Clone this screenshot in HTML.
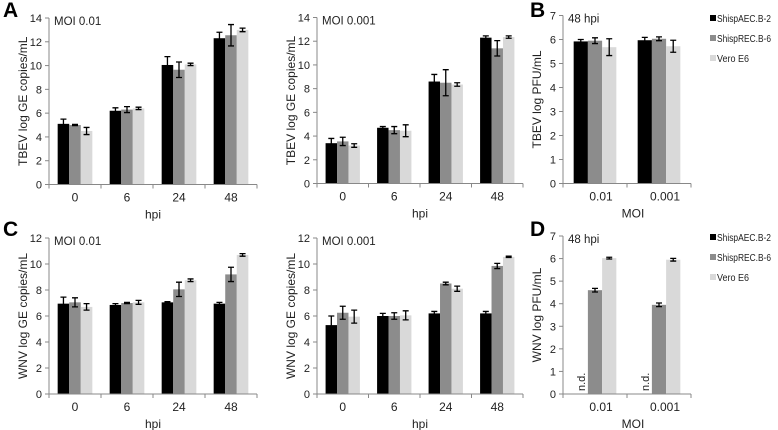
<!DOCTYPE html>
<html><head><meta charset="utf-8">
<style>
html,body{margin:0;padding:0;background:#fff;}
svg{display:block;font-family:"Liberation Sans",Arial,sans-serif;}
</style></head>
<body>
<svg id="fig" width="778" height="430" viewBox="0 0 778 430" xmlns="http://www.w3.org/2000/svg"></svg>
<script>
const seriesNames = ["ShispAEC.B-2", "ShispREC.B-6", "Vero E6"];
const colors = ["#000000", "#8c8c8c", "#d9d9d9"];
const hpiCats = ["0", "6", "24", "48"];
const moiCats = ["0.01", "0.001"];
// Panel A (TBEV GE, MOI 0.01)
const a1Vals = [[5.1, 6.2, 10.05, 12.3], [5.0, 6.3, 9.65, 12.55], [4.5, 6.4, 10.1, 13.0]];
const a1Errs = [[0.4, 0.25, 0.7, 0.5], [0.05, 0.25, 0.65, 0.9], [0.3, 0.1, 0.1, 0.15]];
// Panel A (TBEV GE, MOI 0.001)
const a2Vals = [[3.4, 4.7, 8.6, 12.3], [3.55, 4.5, 8.5, 11.4], [3.2, 4.45, 8.35, 12.35]];
const a2Errs = [[0.4, 0.1, 0.6, 0.15], [0.35, 0.3, 1.1, 0.65], [0.15, 0.5, 0.15, 0.1]];
// Panel B (TBEV PFU)
const bVals = [[5.92, 5.97], [5.95, 6.03], [5.68, 5.72]];
const bErrs = [[0.08, 0.12], [0.12, 0.08], [0.35, 0.25]];
// Panel C (WNV GE, MOI 0.01)
const c1Vals = [[6.95, 6.85, 7.05, 6.95], [7.05, 7.0, 8.05, 9.2], [6.7, 7.05, 8.75, 10.7]];
const c1Errs = [[0.5, 0.1, 0.05, 0.1], [0.35, 0.05, 0.55, 0.55], [0.25, 0.15, 0.1, 0.1]];
// Panel C (WNV GE, MOI 0.001)
const c2Vals = [[5.3, 6.0, 6.2, 6.2], [6.25, 6.0, 8.5, 9.85], [5.95, 6.05, 8.1, 10.55]];
const c2Errs = [[0.7, 0.2, 0.15, 0.15], [0.5, 0.25, 0.1, 0.2], [0.5, 0.35, 0.2, 0.05]];
// Panel D (WNV PFU), null = n.d.
const dVals = [[null, null], [4.6, 3.95], [6.02, 5.95]];
const dErrs = [[0, 0], [0.08, 0.08], [0.04, 0.06]];
const ticks14 = [0, 2, 4, 6, 8, 10, 12, 14];
const ticks12 = [0, 2, 4, 6, 8, 10, 12];
const ticks7 = [0, 1, 2, 3, 4, 5, 6, 7];

const NS = "http://www.w3.org/2000/svg";
const svg = document.getElementById("fig");
function mk(tag, attrs, parent, text) {
  const e = document.createElementNS(NS, tag);
  for (const k in attrs) e.setAttribute(k, attrs[k]);
  if (text !== undefined) e.textContent = text;
  (parent || svg).appendChild(e);
  return e;
}

function panel(p) {
  const g = mk("g", {});
  
  
  const ymax = p.ticks[p.ticks.length - 1];
  const yS = v => p.y0 - (v / ymax) * (p.y0 - p.y1);
  const band = (p.x1 - p.x0) / p.cats.length;
  const bw = band / 4.5;
  const xC = i => p.x0 + band * (i + 0.5);
  p.ticks.forEach(t => {
    const y = yS(t);
    const tl = mk("line", {x1: p.x0 - 4, x2: p.x0, y1: y, y2: y, stroke: "#888", "stroke-width": 1}, g);
    
    
    const tx = mk("text", {x: p.x0 - 7, y: y + 4, "font-size": 11, "text-anchor": "end", fill: "#222"}, g, String(t));
    
    
  });
  p.vals.forEach((ser, s) => {
    ser.forEach((v, i) => {
      const bx = xC(i) - 1.5 * bw + s * bw;
      if (v === null) {
        const nd = mk("text", {x: 0, y: 0, "font-size": 11, fill: "#222", transform: `translate(${bx + bw / 2 + 4},${p.y0 - 3}) rotate(-90)`}, g, "n.d.");
        
        
        return;
      }
      const r = mk("rect", {x: bx, y: yS(v), width: bw, height: p.y0 - yS(v), fill: colors[s]}, g);
      
      
      const e = p.errs[s][i];
      const cx = bx + bw / 2, yt = yS(v + e), yb = yS(v - e);
      const eb = mk("path", {d: `M${cx - 3},${yt}H${cx + 3}M${cx},${yt}V${yb}M${cx - 3},${yb}H${cx + 3}`, stroke: "#000", "stroke-width": 1.3, fill: "none"}, g);
      
      
    });
  });
  const ya = mk("line", {x1: p.x0, x2: p.x0, y1: p.y1, y2: p.y0, stroke: "#888", "stroke-width": 1}, g);
  
  
  const xa = mk("line", {x1: p.x0, x2: p.x1, y1: p.y0, y2: p.y0, stroke: "#888", "stroke-width": 1}, g);
  
  
  for (let i = 0; i <= p.cats.length; i++) {
    const x = p.x0 + band * i;
    const t = mk("line", {x1: x, x2: x, y1: p.y0, y2: p.y0 + 4, stroke: "#888"}, g);
    
    
  }
  p.cats.forEach((c, i) => {
    const t = mk("text", {x: xC(i) + (p.labOff || 0), y: p.y0 + 17, "font-size": 12, "text-anchor": "middle", fill: "#222"}, g, c);
    
    
  });
  const xt = mk("text", {x: (p.x0 + p.x1) / 2 + (p.labOff || 0), y: p.y0 + 34, "font-size": 12, "text-anchor": "middle", fill: "#222"}, g, p.xTitle);
  
  
  const yt = mk("text", {x: 0, y: 0, "font-size": 12, "text-anchor": "middle", fill: "#222", transform: `translate(${p.x0 - 22},${(p.y0 + p.y1) / 2}) rotate(-90)`}, g, p.yTitle);
  
  
  const an = mk("text", {x: p.x0 + 5, y: p.y1 + 7, "font-size": 11.5, fill: "#222"}, g, p.note);
  
  
}

function legend(x, y) {
  const g = mk("g", {});
  
  
  const widths = [54, 54, 32];
  seriesNames.forEach((n, i) => {
    const yy = y + i * 20;
    const r = mk("rect", {x: x, y: yy - 7, width: 6, height: 6, fill: colors[i]}, g);
    
    
    const t = mk("text", {x: x + 7, y: yy, "font-size": 10, fill: "#222", textLength: widths[i], lengthAdjust: "spacingAndGlyphs"}, g, n);
    
    
  });
}

function letter(ch, x, y) {
  const t = mk("text", {x: x, y: y, "font-size": 21, "font-weight": "bold", fill: "#000"}, svg, ch);
  
  
}

letter("A", 3, 17); letter("B", 530, 17); letter("C", 3, 236); letter("D", 530, 236);

panel({name: "panel-a-moi-0.01", x0: 49, x1: 257, y0: 184.5, y1: 18, ticks: ticks14, cats: hpiCats, vals: a1Vals, errs: a1Errs, xTitle: "hpi", yTitle: "TBEV log GE copies/mL", note: "MOI 0.01"});
panel({name: "panel-a-moi-0.001", x0: 317, x1: 523, y0: 183.5, y1: 17.5, ticks: ticks14, cats: hpiCats, vals: a2Vals, errs: a2Errs, xTitle: "hpi", yTitle: "TBEV log GE copies/mL", note: "MOI 0.001"});
panel({name: "panel-b", x0: 563, x1: 691, y0: 183.5, y1: 15.5, ticks: ticks7, cats: moiCats, vals: bVals, errs: bErrs, xTitle: "MOI", yTitle: "TBEV log PFU/mL", note: "48 hpi", labOff: 6});
legend(710, 22);
panel({name: "panel-c-moi-0.01", x0: 49, x1: 257, y0: 394, y1: 238, ticks: ticks12, cats: hpiCats, vals: c1Vals, errs: c1Errs, xTitle: "hpi", yTitle: "WNV log GE copies/mL", note: "MOI 0.01"});
panel({name: "panel-c-moi-0.001", x0: 317, x1: 523, y0: 394, y1: 238, ticks: ticks12, cats: hpiCats, vals: c2Vals, errs: c2Errs, xTitle: "hpi", yTitle: "WNV log GE copies/mL", note: "MOI 0.001"});
panel({name: "panel-d", x0: 563, x1: 691, y0: 394, y1: 236, ticks: ticks7, cats: moiCats, vals: dVals, errs: dErrs, xTitle: "MOI", yTitle: "WNV log PFU/mL", note: "48 hpi", labOff: 6});
legend(710, 241);
</script>
</body></html>
